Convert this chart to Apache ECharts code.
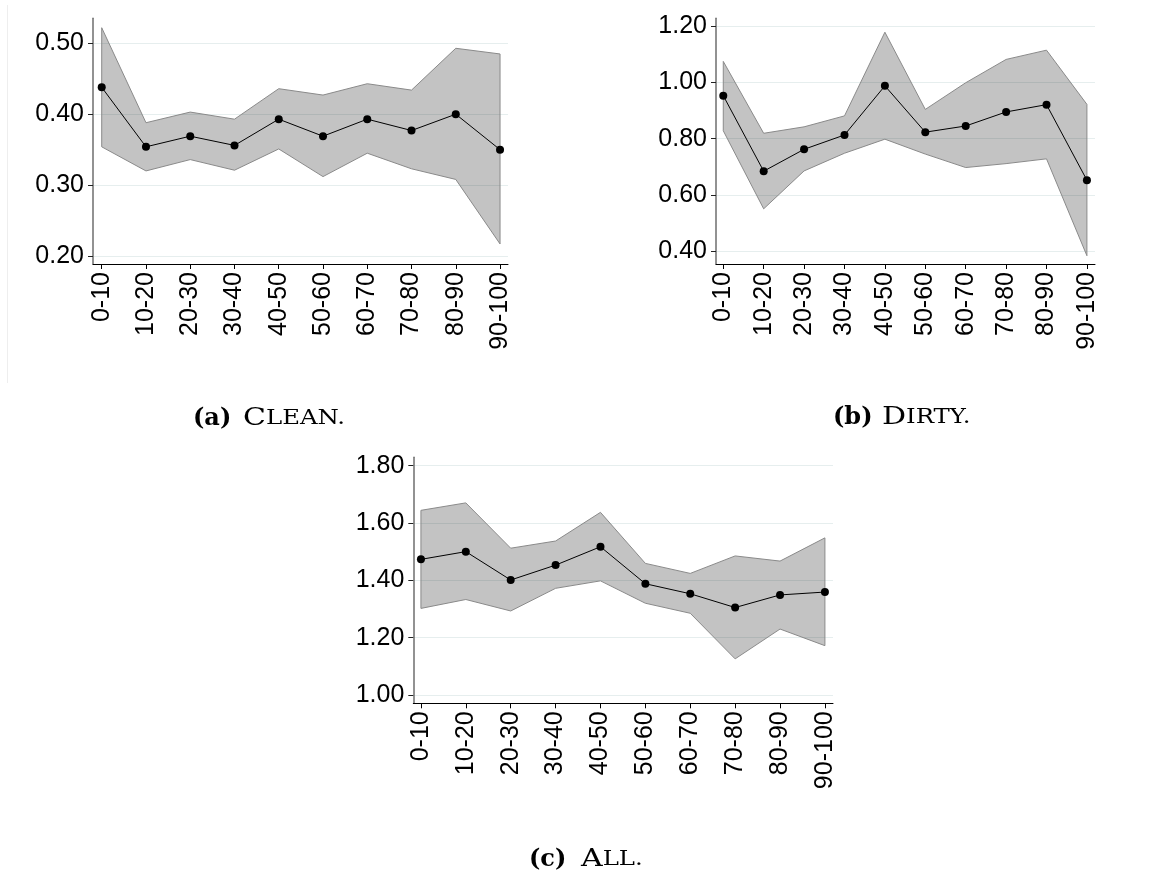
<!DOCTYPE html>
<html>
<head>
<meta charset="utf-8">
<script src="https://cdn.jsdelivr.net/npm/echarts@6/dist/echarts.min.js"></script>
<style>
  html, body { margin: 0; padding: 0; background: #fff; }
  #chart { width: 1161px; height: 877px; }
</style>
</head>
<body>
<div id="chart"></div>
<script>
// Decile bins shared by all three panels
const categories = ['0-10', '10-20', '20-30', '30-40', '40-50', '50-60', '60-70', '70-80', '80-90', '90-100'];

// (a) Clean: point estimate with confidence band
const cleanMean  = [0.438, 0.354, 0.369, 0.356, 0.393, 0.369, 0.393, 0.377, 0.400, 0.350];
const cleanUpper = [0.522, 0.388, 0.403, 0.393, 0.436, 0.427, 0.443, 0.434, 0.493, 0.485];
const cleanLower = [0.354, 0.320, 0.336, 0.321, 0.351, 0.312, 0.345, 0.323, 0.308, 0.217];
const cleanTicks = [0.2, 0.3, 0.4, 0.5];

// (b) Dirty
const dirtyMean  = [0.953, 0.684, 0.762, 0.813, 0.988, 0.823, 0.845, 0.895, 0.921, 0.652];
const dirtyUpper = [1.075, 0.819, 0.842, 0.881, 1.179, 0.904, 0.999, 1.082, 1.115, 0.922];
const dirtyLower = [0.828, 0.550, 0.685, 0.748, 0.798, 0.745, 0.697, 0.711, 0.728, 0.383];
const dirtyTicks = [0.4, 0.6, 0.8, 1.0, 1.2];

// (c) All
const allMean  = [1.473, 1.500, 1.401, 1.453, 1.517, 1.388, 1.353, 1.305, 1.349, 1.359];
const allUpper = [1.644, 1.670, 1.512, 1.537, 1.637, 1.459, 1.424, 1.485, 1.467, 1.548];
const allLower = [1.302, 1.333, 1.293, 1.372, 1.398, 1.320, 1.285, 1.126, 1.230, 1.172];
const allTicks = [1.0, 1.2, 1.4, 1.6, 1.8];

const panels = [
  { mean: cleanMean, upper: cleanUpper, lower: cleanLower, ticks: cleanTicks,
    grid: { left: 93, top: 18.3, width: 415, height: 245.7 }, x: [-0.197, 9.18], y: [0.1887, 0.5353] },
  { mean: dirtyMean, upper: dirtyUpper, lower: dirtyLower, ticks: dirtyTicks,
    grid: { left: 716, top: 18.3, width: 379, height: 245.7 }, x: [-0.18, 9.2], y: [0.3535, 1.2285] },
  { mean: allMean, upper: allUpper, lower: allLower, ticks: allTicks,
    grid: { left: 413.3, top: 457.3, width: 419.7, height: 246 }, x: [-0.17, 9.18], y: [0.971, 1.829] }
];

const tickFont = { fontFamily: 'Liberation Sans, Arial, sans-serif', fontSize: 25, color: '#000' };
const catIdx = categories.map((c, i) => i);

const grids = [], xAxes = [], yAxes = [], series = [];
panels.forEach((p, k) => {
  grids.push(Object.assign({ containLabel: false }, p.grid));
  xAxes.push({
    type: 'value', gridIndex: k, min: p.x[0], max: p.x[1],
    axisLine: { show: true, onZero: false, lineStyle: { color: '#000', width: 1 } },
    axisTick: { show: true, length: 5, lineStyle: { color: '#000' }, customValues: catIdx },
    axisLabel: Object.assign({ rotate: 90, margin: 8, customValues: catIdx,
      formatter: v => categories[Math.round(v)] }, tickFont),
    splitLine: { show: false }
  });
  yAxes.push({
    type: 'value', gridIndex: k, min: p.y[0], max: p.y[1],
    axisLine: { show: true, onZero: false, lineStyle: { color: '#6e6e6e', width: 1.5 } },
    axisTick: { show: true, length: 5, lineStyle: { color: '#222' }, customValues: p.ticks },
    axisLabel: Object.assign({ margin: 9, customValues: p.ticks,
      formatter: v => v.toFixed(2) }, tickFont),
    splitLine: { show: true, lineStyle: { color: '#e6eeee', width: 1 } }
  });
  // confidence band: one polygon running along the upper bound and back along the lower bound
  series.push({
    type: 'custom', xAxisIndex: k, yAxisIndex: k, clip: false, z: 1,
    data: p.lower.map((v, i) => [i, v, p.upper[i]]),
    encode: { x: 0, y: [1, 2] },
    renderItem: (params, api) => {
      if (params.dataIndex !== 0) return null;
      const pts = [];
      for (let i = 0; i < p.upper.length; i++) pts.push(api.coord([i, p.upper[i]]));
      for (let i = p.lower.length - 1; i >= 0; i--) pts.push(api.coord([i, p.lower[i]]));
      return {
        type: 'polygon',
        shape: { points: pts },
        style: { fill: 'rgba(0,0,0,0.235)', stroke: '#8a8a8a', lineWidth: 1 }
      };
    }
  });
  // point estimates
  series.push({
    type: 'line', xAxisIndex: k, yAxisIndex: k, clip: false,
    data: p.mean.map((v, i) => [i, v]),
    symbol: 'circle', symbolSize: 8, itemStyle: { color: '#000' },
    lineStyle: { color: '#000', width: 1 }, z: 3
  });
});

// Sub-figure captions: bold letter, then a wide small-caps title
const serif = 'DejaVu Serif, serif';
const capRich = {
  c: { fontFamily: serif, fontSize: 24, fill: '#000' },
  s: { fontFamily: serif, fontSize: 19.5, fill: '#000' }
};
function caption(labelX, titleX, y, letter, first, rest) {
  return [
    { type: 'text', x: labelX, y: y,
      style: { text: '(' + letter + ')', font: 'bold 24px ' + serif, fill: '#000',
               textAlign: 'left', textVerticalAlign: 'middle' } },
    { type: 'text', x: titleX, y: y, scaleX: 1.25,
      style: { text: '{c|' + first + '}{s|' + rest + '}', rich: capRich,
               textAlign: 'left', textVerticalAlign: 'middle' } }
  ];
}

const chart = echarts.init(document.getElementById('chart'), null, { renderer: 'canvas' });
chart.setOption({
  animation: false,
  backgroundColor: '#fff',
  grid: grids,
  xAxis: xAxes,
  yAxis: yAxes,
  series: series,
  graphic: [
    { type: 'line', shape: { x1: 7.5, y1: 5, x2: 7.5, y2: 383 }, style: { stroke: '#eeeeee', lineWidth: 1 } }
  ].concat(
    caption(193, 243, 419, 'a', 'C', 'LEAN.'),
    caption(833, 882, 418, 'b', 'D', 'IRTY.'),
    caption(529, 581, 860, 'c', 'A', 'LL.')
  )
});
</script>
</body>
</html>
